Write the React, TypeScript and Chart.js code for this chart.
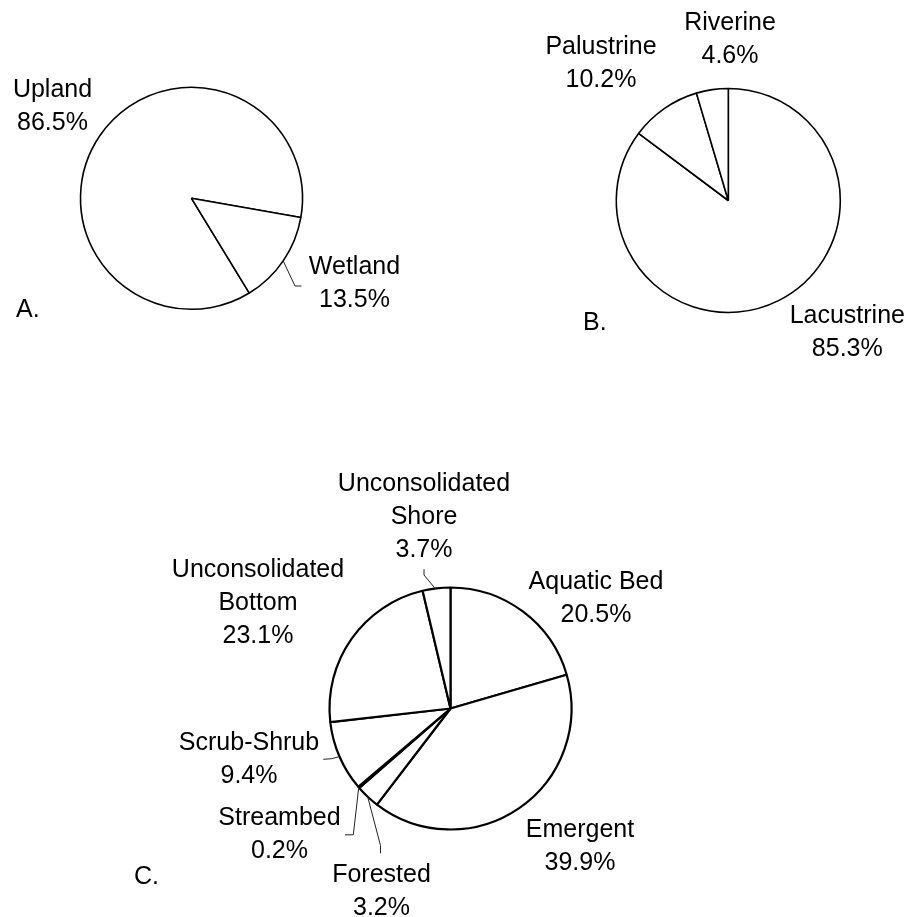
import React, { useEffect, useRef } from "react";
import { Chart, registerables } from "chart.js";

Chart.register(...registerables);

// ---------- Data ----------
// A. Upland vs wetland
const aLabels = ["Upland", "Wetland"];
const aValues = [86.5, 13.5];

// B. Wetland systems
const bLabels = ["Lacustrine", "Palustrine", "Riverine"];
const bValues = [85.3, 10.2, 4.6];

// C. Wetland classes
const cLabels = [
  "Aquatic Bed",
  "Emergent",
  "Forested",
  "Streambed",
  "Scrub-Shrub",
  "Unconsolidated Bottom",
  "Unconsolidated Shore",
];
const cValues = [20.5, 39.9, 3.2, 0.2, 9.4, 23.1, 3.7];

// ---------- Layout / style (not data) ----------
const PAGE_W = 906;
const PAGE_H = 917;
const FONT_SIZE = 25;
const LINE_H = 33;
const FONT = `${FONT_SIZE}px "Liberation Sans", Arial, Helvetica, sans-serif`;

type Pt = [number, number];
interface PieCfg {
  labels: string[];
  values: number[];
  cx: number;
  cy: number;
  r: number;
  rotation: number;
  border: number;
  tag: string;
  tagPos: Pt;
  place: Pt[]; // label centre (first line) relative to pie centre
  leaders: (Pt[] | null)[]; // leader polyline after arc mid point, relative to centre
}

const pies: PieCfg[] = [
  {
    labels: aLabels,
    values: aValues,
    cx: 191.5,
    cy: 198.3,
    r: 111,
    rotation: 148.6,
    border: 1.6,
    tag: "A.",
    tagPos: [-175.5, 111.7],
    place: [
      [-139, -108.3],
      [163, 69],
    ],
    leaders: [null, [[103.5, 87.7], [110, 87.7]]],
  },
  {
    labels: bLabels,
    values: bValues,
    cx: 728.3,
    cy: 200.5,
    r: 112,
    rotation: 0,
    border: 1.6,
    tag: "B.",
    tagPos: [-145.3, 122.5],
    place: [
      [119, 116],
      [-127.3, -153.5],
      [1.7, -177.5],
    ],
    leaders: [null, null, null],
  },
  {
    labels: cLabels,
    values: cValues,
    cx: 450.5,
    cy: 708.5,
    r: 121,
    rotation: 0,
    border: 2.2,
    tag: "C.",
    tagPos: [-316.5, 168.5],
    place: [
      [145.5, -126.5],
      [129.5, 121.5],
      [-69, 166.5],
      [-171, 109.5],
      [-201.5, 34.5],
      [-192.5, -138.5],
      [-26.5, -224.5],
    ],
    leaders: [
      null,
      null,
      [[-70, 137], [-70, 144.8]],
      [[-97.2, 126.3], [-105.5, 126.3]],
      [[-118.8, 50.2], [-127.2, 50.8]],
      null,
      [[-15.5, -120.2], [-26.5, -133.5], [-26.5, -139.2]],
    ],
  },
];

function nameLines(name: string): string[] {
  if (name.startsWith("Unconsolidated ")) return name.split(" ");
  return [name];
}

function makeLabelPlugin(cfg: PieCfg) {
  return {
    id: "pieLabels",
    afterDraw(chart: any) {
      const ctx = chart.ctx as CanvasRenderingContext2D;
      const arcs = chart.getDatasetMeta(0).data as any[];
      if (!arcs.length) return;
      const cx = arcs[0].x;
      const cy = arcs[0].y;
      const r = arcs[0].outerRadius;
      ctx.save();
      ctx.font = FONT;
      ctx.fillStyle = "#000";
      ctx.textAlign = "center";
      ctx.textBaseline = "middle";
      arcs.forEach((arc, i) => {
        const p = cfg.place[i];
        const lines = [...nameLines(cfg.labels[i]), `${cfg.values[i].toFixed(1)}%`];
        lines.forEach((ln, k) => ctx.fillText(ln, cx + p[0], cy + p[1] + k * LINE_H));
        const ld = cfg.leaders[i];
        if (ld) {
          const mid = (arc.startAngle + arc.endAngle) / 2;
          ctx.beginPath();
          ctx.moveTo(cx + r * Math.cos(mid), cy + r * Math.sin(mid));
          ld.forEach(([dx, dy]) => ctx.lineTo(cx + dx, cy + dy));
          ctx.lineWidth = 1;
          ctx.strokeStyle = "#222";
          ctx.stroke();
        }
      });
      ctx.textAlign = "left";
      ctx.fillText(cfg.tag, cx + cfg.tagPos[0], cy + cfg.tagPos[1]);
      ctx.restore();
    },
  };
}

function PieCanvas({ cfg }: { cfg: PieCfg }) {
  const ref = useRef<HTMLCanvasElement | null>(null);
  useEffect(() => {
    if (!ref.current) return;
    const padding = {
      left: Math.max(0, 2 * cfg.cx - PAGE_W),
      right: Math.max(0, PAGE_W - 2 * cfg.cx),
      top: Math.max(0, 2 * cfg.cy - PAGE_H),
      bottom: Math.max(0, PAGE_H - 2 * cfg.cy),
    };
    const chart = new Chart(ref.current, {
      type: "pie",
      data: {
        labels: cfg.labels,
        datasets: [
          {
            data: cfg.values,
            backgroundColor: "#ffffff",
            borderColor: "#000000",
            borderWidth: cfg.border,
            radius: cfg.r,
          } as any,
        ],
      },
      options: {
        responsive: false,
        animation: false,
        events: [],
        rotation: cfg.rotation,
        layout: { padding },
        plugins: {
          legend: { display: false },
          tooltip: { enabled: false },
        },
      } as any,
      plugins: [makeLabelPlugin(cfg)],
    });
    return () => chart.destroy();
  }, [cfg]);
  return (
    <canvas
      ref={ref}
      width={PAGE_W}
      height={PAGE_H}
      style={{ position: "absolute", left: 0, top: 0, width: PAGE_W, height: PAGE_H }}
    />
  );
}

export default function App() {
  return (
    <div
      style={{
        position: "absolute",
        left: 0,
        top: 0,
        width: PAGE_W,
        height: PAGE_H,
        background: "#fff",
        overflow: "hidden",
      }}
    >
      {pies.map((p, i) => (
        <PieCanvas key={i} cfg={p} />
      ))}
    </div>
  );
}
